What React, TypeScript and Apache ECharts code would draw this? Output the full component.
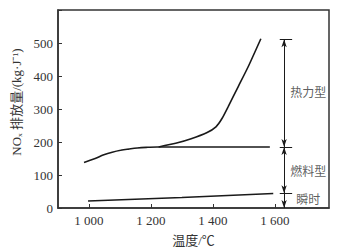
import React, { useEffect, useRef } from "react";
import * as echarts from "echarts";

// Curve: low-temperature branch merging into the flat fuel-NOx line (x: °C, y: NOx)
const curveFuel: [number, number][] = [
  [984, 138], [1020, 150], [1048, 161], [1075, 169], [1102, 175], [1130, 179],
  [1156, 182], [1190, 184], [1220, 185], [1300, 185], [1400, 185], [1500, 185], [1584, 185],
];
// Thermal NOx branch
const curveThermal: [number, number][] = [
  [1225, 185], [1280, 196], [1330, 210], [1380, 228], [1410, 246], [1430, 272],
  [1450, 308], [1482, 368], [1514, 428], [1555, 513],
];
// Prompt NOx line
const curvePrompt: [number, number][] = [
  [997, 21], [1300, 32], [1595, 44],
];

const xTicks = [1000, 1200, 1400, 1600];
const yMax = 600;

// Annotation bracket levels
const bracketX = 1630;
const bracketCapL = 1616;
const bracketCapR = 1656;
const bracketLevels = [511, 185, 45, 0];
const annotationLabels = ["热力型", "燃料型", "瞬时"];
const annotationLabelY = [353, 113, 28];
const annotationLabelX = 1708;

const fmtThousands = (v: number) => String(v).replace(/\B(?=(\d{3})+$)/g, " ");

const FONT = "'Liberation Serif', 'Noto Sans CJK SC', serif";
const TXT = "#333";
const INK = "#1a1a1a";

export default function App() {
  const ref = useRef<HTMLDivElement>(null);
  useEffect(() => {
    if (!ref.current) return;
    const chart = echarts.init(ref.current, undefined, { renderer: "svg" });

    const markData: any[] = [];
    for (let i = 0; i < bracketLevels.length - 1; i++) {
      const last = i === bracketLevels.length - 2;
      markData.push([
        { coord: [bracketX, bracketLevels[i]], symbol: last ? "none" : "arrow" },
        { coord: [bracketX, bracketLevels[i + 1]], symbol: "arrow" },
      ]);
    }
    for (let i = 0; i < bracketLevels.length - 1; i++) {
      markData.push([
        { coord: [bracketCapL, bracketLevels[i]], symbol: "none" },
        { coord: [bracketCapR, bracketLevels[i]], symbol: "none" },
      ]);
    }

    chart.setOption({
      animation: false,
      textStyle: { fontFamily: FONT },
      grid: {
        left: 58, right: 14, top: 10, bottom: 43,
        show: true, borderColor: "#333", borderWidth: 1.5,
      },
      xAxis: {
        type: "value",
        min: 900,
        max: 1775,
        name: "温度/℃",
        nameLocation: "middle",
        nameGap: 26,
        nameTextStyle: { fontSize: 13, color: TXT, fontFamily: FONT },
        axisLine: { show: true, lineStyle: { color: "#333", width: 1.5 } },
        axisTick: { show: true, inside: true, length: 4, customValues: xTicks, lineStyle: { color: "#333" } },
        axisLabel: {
          customValues: xTicks,
          fontSize: 13, color: TXT, fontFamily: FONT, margin: 6,
          formatter: (v: number) => fmtThousands(v),
        },
        splitLine: { show: false },
      },
      yAxis: {
        type: "value",
        min: 0,
        max: yMax,
        interval: 100,
        name: "NOₓ 排放量/(kg·J⁻¹)",
        nameLocation: "middle",
        nameGap: 28,
        nameTextStyle: { fontSize: 13, color: TXT, fontFamily: FONT, padding: [0, 0, 0, 14] },
        axisLine: { show: true, lineStyle: { color: "#333", width: 1.5 } },
        axisTick: { show: true, inside: true, length: 4, lineStyle: { color: "#333" } },
        axisLabel: {
          fontSize: 13, color: TXT, fontFamily: FONT, margin: 5,
          formatter: (v: number) => (v === yMax ? "" : String(v)),
        },
        splitLine: { show: false },
      },
      series: [
        {
          type: "line", data: curveFuel, smooth: 0.4, showSymbol: false,
          lineStyle: { color: INK, width: 1.6 },
        },
        {
          type: "line", data: curveThermal, smooth: 0.2, showSymbol: false,
          lineStyle: { color: INK, width: 1.6 },
        },
        {
          type: "line", data: curvePrompt, showSymbol: false,
          lineStyle: { color: INK, width: 1.5 },
        },
        {
          type: "line",
          data: [],
          showSymbol: false,
          markLine: {
            silent: true,
            animation: false,
            symbolSize: [4, 8],
            label: { show: false },
            lineStyle: { color: INK, width: 1, type: "solid" },
            emphasis: { disabled: true },
            data: markData,
          },
        },
        {
          type: "scatter",
          symbolSize: 0,
          silent: true,
          data: annotationLabels.map((t, i) => [annotationLabelX, annotationLabelY[i], t]),
          label: {
            show: true,
            position: "inside",
            formatter: (p: any) => p.value[2],
            fontSize: 12,
            color: TXT,
            fontFamily: "'Noto Sans CJK SC', serif",
          },
        },
      ],
    });
    return () => chart.dispose();
  }, []);
  return (
    <div
      ref={ref}
      style={{ position: "fixed", left: 0, top: 0, width: 343, height: 252, background: "#fff" }}
    />
  );
}
